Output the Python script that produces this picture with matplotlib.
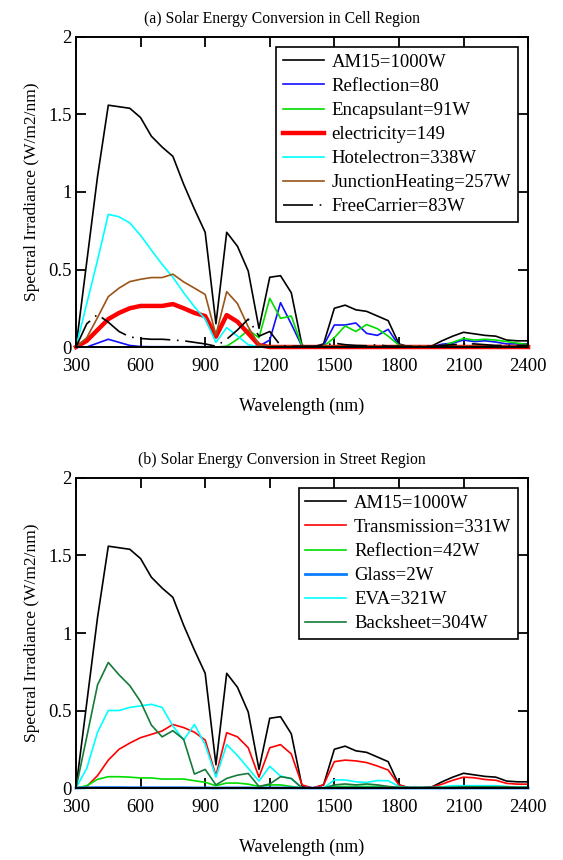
import numpy as np
import matplotlib
matplotlib.use('Agg')
import matplotlib.pyplot as plt
from matplotlib.ticker import FuncFormatter

plt.rcParams['font.family'] = ['Liberation Serif', 'DejaVu Serif']

# wavelength grid (nm)
wavelength = list(range(300, 2401, 50))

# AM1.5 spectrum (same in both panels)
am15 = [0, 0.55, 1.1, 1.56, 1.55, 1.54, 1.48, 1.36, 1.29, 1.23, 1.05, 0.89, 0.74, 0.15,
        0.74, 0.65, 0.49, 0.12, 0.45, 0.46, 0.35, 0.01, 0.0, 0.02, 0.25, 0.27, 0.24, 0.23,
        0.20, 0.17, 0.02, 0.0, 0.0, 0.005, 0.04, 0.07, 0.095, 0.085, 0.075, 0.07, 0.045,
        0.04, 0.04]

# (a) cell region
cell_reflection = [0, 0.0, 0.025, 0.05, 0.03, 0.01, 0.003, 0.002, 0.002, 0.002, 0.002, 0.002,
                   0.002, 0.001, 0.002, 0.002, 0.002, 0.005, 0.045, 0.286, 0.148, 0.003, 0.0,
                   0.01, 0.142, 0.142, 0.155, 0.088, 0.075, 0.114, 0.01, 0, 0, 0, 0.018, 0.025,
                   0.045, 0.035, 0.04, 0.032, 0.02, 0.02, 0.02]
cell_encapsulant = [0, 0, 0, 0, 0, 0, 0, 0, 0, 0, 0, 0, 0, 0, 0.005, 0.05, 0.11, 0.06, 0.314,
                    0.185, 0.2, 0.005, 0, 0.005, 0.06, 0.136, 0.1, 0.145, 0.118, 0.07, 0.012,
                    0, 0, 0, 0.005, 0.03, 0.055, 0.045, 0.05, 0.045, 0.035, 0.025, 0.015]
cell_electricity = [0, 0.04, 0.11, 0.18, 0.22, 0.25, 0.265, 0.265, 0.265, 0.277, 0.25, 0.22,
                    0.2, 0.067, 0.206, 0.163, 0.088, 0.012, 0, 0, 0, 0, 0, 0, 0, 0, 0, 0, 0,
                    0, 0, 0, 0, 0, 0, 0, 0, 0, 0, 0, 0, 0, 0]
cell_hotelectron = [0, 0.28, 0.56, 0.856, 0.84, 0.80, 0.72, 0.625, 0.533, 0.45, 0.35, 0.26,
                    0.18, 0.03, 0.125, 0.071, 0.015, 0, 0, 0, 0, 0, 0, 0, 0, 0, 0, 0, 0, 0, 0,
                    0, 0, 0, 0, 0, 0, 0, 0, 0, 0, 0, 0]
cell_junction = [0, 0.06, 0.19, 0.325, 0.38, 0.422, 0.437, 0.448, 0.448, 0.47, 0.42, 0.38,
                 0.339, 0.078, 0.357, 0.28, 0.13, 0.013, 0.005, 0.005, 0.005, 0.005, 0.005,
                 0.005, 0.005, 0.005, 0.005, 0.005, 0.005, 0.005, 0.005, 0.005, 0.005, 0.005,
                 0.005, 0.005, 0.005, 0.005, 0.005, 0.005, 0.005, 0.005, 0.005]
cell_freecarrier = [0, 0.15, 0.21, 0.16, 0.1, 0.065, 0.055, 0.05, 0.05, 0.045, 0.04, 0.03,
                    0.02, 0.005, 0.05, 0.11, 0.18, 0.07, 0.1, 0.01, 0.005, 0.005, 0.005, 0.01,
                    0.025, 0.015, 0.01, 0.008, 0.015, 0.005, 0.005, 0.005, 0.005, 0.005, 0.01,
                    0.015, 0.02, 0.02, 0.015, 0.01, 0.01, 0.01, 0.01]

# (b) street region
st_transmission = [0, 0.01, 0.08, 0.18, 0.25, 0.29, 0.325, 0.346, 0.368, 0.41, 0.39, 0.36,
                   0.31, 0.08, 0.357, 0.33, 0.26, 0.07, 0.26, 0.28, 0.22, 0.02, 0, 0.02, 0.17,
                   0.18, 0.175, 0.164, 0.142, 0.116, 0.02, 0, 0, 0.005, 0.025, 0.05, 0.07,
                   0.066, 0.055, 0.05, 0.03, 0.025, 0.025]
st_reflection = [0, 0.015, 0.056, 0.073, 0.073, 0.07, 0.065, 0.065, 0.058, 0.058, 0.058, 0.047,
                 0.037, 0.015, 0.032, 0.032, 0.025, 0.01, 0.02, 0.02, 0.01, 0, 0, 0, 0.01,
                 0.01, 0.01, 0.01, 0.01, 0.005, 0, 0, 0, 0, 0, 0.005, 0.005, 0.005, 0.005,
                 0.005, 0.005, 0.005, 0.005]
st_glass = [0, 0.002, 0.003, 0.003, 0.003, 0.002, 0.002, 0.002, 0.002, 0.002, 0.002, 0.001,
            0.001, 0, 0.001, 0.001, 0.001, 0, 0.001, 0.001, 0.001, 0, 0, 0, 0, 0, 0, 0, 0,
            0, 0, 0, 0, 0, 0, 0, 0, 0, 0, 0, 0, 0, 0]
st_eva = [0, 0.127, 0.36, 0.5, 0.5, 0.52, 0.53, 0.54, 0.52, 0.40, 0.31, 0.41, 0.28, 0.07,
          0.28, 0.21, 0.127, 0.045, 0.14, 0.077, 0.06, 0, 0, 0, 0.052, 0.052, 0.04, 0.036,
          0.048, 0.047, 0.01, 0, 0, 0, 0.007, 0.015, 0.015, 0.015, 0.015, 0.015, 0.01,
          0.005, 0.005]
st_backsheet = [0, 0.33, 0.665, 0.81, 0.73, 0.66, 0.557, 0.406, 0.33, 0.37, 0.314, 0.09, 0.12,
                0.02, 0.062, 0.083, 0.094, 0.01, 0.026, 0.073, 0.062, 0, 0, 0, 0.02, 0.026,
                0.02, 0.026, 0.02, 0.01, 0.005, 0.005, 0.005, 0.005, 0.005, 0.005, 0.008,
                0.008, 0.008, 0.008, 0.008, 0.005, 0.005]

fig = plt.figure(figsize=(5.63, 8.6), dpi=100)
ax1 = fig.add_axes([0.135, 0.5965, 0.803, 0.3605])
ax2 = fig.add_axes([0.135, 0.0837, 0.803, 0.3605])

lw = 1.2
ax1.plot(wavelength, am15, color='black', lw=lw, label='AM15=1000W')
ax1.plot(wavelength, cell_reflection, color='#1010ff', lw=lw, label='Reflection=80')
ax1.plot(wavelength, cell_encapsulant, color='#00dd00', lw=lw, label='Encapsulant=91W')
ax1.plot(wavelength, cell_electricity, color='#ff0000', lw=3.2, label='electricity=149')
ax1.plot(wavelength, cell_hotelectron, color='#00ffff', lw=lw, label='Hotelectron=338W')
ax1.plot(wavelength, cell_junction, color='#9a5418', lw=lw, label='JunctionHeating=257W')
ax1.plot(wavelength, cell_freecarrier, color='black', lw=lw, dashes=(18, 4, 1, 4),
         label='FreeCarrier=83W')

ax2.plot(wavelength, am15, color='black', lw=lw, label='AM15=1000W')
ax2.plot(wavelength, st_transmission, color='#ff0000', lw=lw, label='Transmission=331W')
ax2.plot(wavelength, st_reflection, color='#00dd00', lw=lw, label='Reflection=42W')
ax2.plot(wavelength, st_glass, color='#0a7cff', lw=2.0, label='Glass=2W')
ax2.plot(wavelength, st_eva, color='#00ffff', lw=lw, label='EVA=321W')
ax2.plot(wavelength, st_backsheet, color='#157a3a', lw=lw, label='Backsheet=304W')

titles = ['(a) Solar Energy Conversion in Cell Region',
          '(b) Solar Energy Conversion in Street Region']

for ax, title in zip([ax1, ax2], titles):
    for ln in ax.get_lines():
        ln.set_clip_on(False)
    ax.set_xlim(300, 2400)
    ax.set_ylim(0, 2)
    ax.set_xticks(range(300, 2401, 300))
    ax.set_yticks([0, 0.5, 1, 1.5, 2])
    ax.yaxis.set_major_formatter(FuncFormatter(lambda v, p: '%g' % v))
    ax.tick_params(direction='in', length=7, width=1.3, top=True, right=True,
                   labelsize=13.5, pad=3, colors='black')
    ax.tick_params(axis='x', pad=8)
    for sp in ax.spines.values():
        sp.set_linewidth(1.4)
    ax.set_xlabel('Wavelength (nm)', fontsize=13, labelpad=16)
    ax.set_ylabel('Spectral Irradiance (W/m2/nm)', fontsize=12.5, labelpad=6)
    # title is centred on the figure, not on the axes
    ax.set_title(title, fontsize=11.3, pad=10, x=0.4546)
    leg = ax.legend(loc='upper right', fontsize=13.5, frameon=True, fancybox=False,
                    edgecolor='black', framealpha=1, borderaxespad=0.55,
                    labelspacing=0.37, handlelength=2.2, handletextpad=0.4,
                    borderpad=0.35)
    leg.get_frame().set_linewidth(1.2)

fig.savefig('out.png', dpi=100)
